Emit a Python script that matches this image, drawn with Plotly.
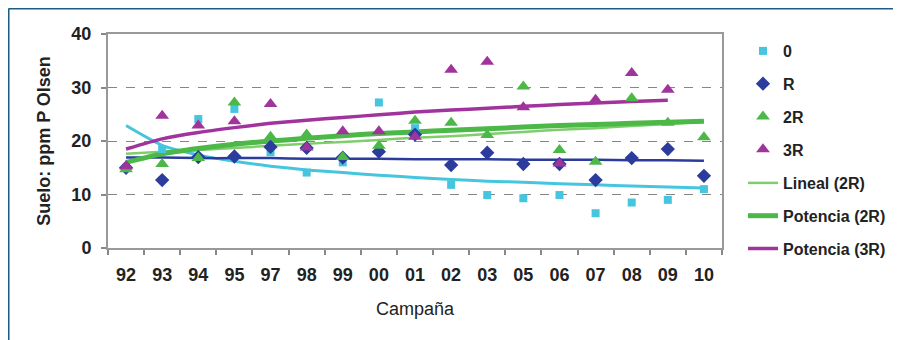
import plotly.graph_objects as go

# ---- data ----
campanas = ['92', '93', '94', '95', '97', '98', '99', '00', '01', '02', '03', '05', '06', '07', '08', '09', '10']

serie_0 = [15.0, 18.5, 24.1, 26.0, 17.9, 14.1, 16.0, 27.2, 22.4, 11.8, 9.9, 9.3, 9.9, 6.5, 8.5, 9.0, 11.0]
serie_R = [15.0, 12.7, 17.0, 17.1, 18.9, 18.7, 16.9, 18.0, 21.2, 15.5, 17.8, 15.7, 15.7, 12.7, 16.8, 18.5, 13.5]
serie_2R = [14.7, 15.7, 16.8, 27.2, 20.8, 21.2, 17.0, 19.1, 23.8, 23.4, 21.1, 30.2, 18.3, 16.1, 28.0, 23.4, 20.7]
serie_3R = [15.3, 24.7, 22.9, 23.7, 26.9, 18.8, 21.8, 21.8, 20.8, 33.3, 34.8, 26.3, 15.8, 27.7, 32.7, 29.6, None]

# trend lines (values read at each campaign)
tend_pot_0 = [22.9, 19.2, 17.4, 16.2, 15.3, 14.6, 14.1, 13.6, 13.2, 12.8, 12.5, 12.3, 12.0, 11.8, 11.6, 11.4, 11.2]
tend_lin_R = [16.9, 16.9, 16.8, 16.8, 16.8, 16.7, 16.7, 16.7, 16.6, 16.6, 16.6, 16.5, 16.5, 16.5, 16.4, 16.4, 16.3]
tend_lin_2R = [17.6, 18.0, 18.3, 18.7, 19.1, 19.5, 19.8, 20.2, 20.6, 20.9, 21.3, 21.7, 22.1, 22.4, 22.8, 23.2, 23.6]
tend_pot_2R = [16.0, 17.6, 18.6, 19.4, 20.0, 20.5, 21.0, 21.4, 21.7, 22.0, 22.3, 22.6, 22.9, 23.1, 23.3, 23.5, 23.7]
tend_pot_3R = [18.5, 20.4, 21.6, 22.5, 23.3, 23.9, 24.4, 24.9, 25.4, 25.8, 26.1, 26.5, 26.8, 27.1, 27.4, 27.6, None]

C_CYAN = '#45c5de'
C_BLUE = '#2b3c9c'
C_GREEN = '#4cb848'
C_GREEN_LT = '#7fcd6c'
C_PURPLE = '#a1349c'

FONT = 'Liberation Sans, Arial, sans-serif'

fig = go.Figure()

def line(y, color, width, name, show, rank):
    fig.add_trace(go.Scatter(
        x=campanas, y=y, mode='lines', name=name, showlegend=show,
        line=dict(color=color, width=width, shape='spline', smoothing=0.6),
        legendgroup=name, legendrank=rank, legend='legend2', hoverinfo='skip'))

line(tend_pot_0, C_CYAN, 3, 'Potencia (0)', False, 90)
line(tend_lin_R, C_BLUE, 2.5, 'Lineal (R)', False, 91)
line(tend_lin_2R, C_GREEN_LT, 2.5, 'Lineal (2R)', True, 5)
line(tend_pot_2R, C_GREEN, 5, 'Potencia (2R)', True, 6)
line(tend_pot_3R, C_PURPLE, 3.5, 'Potencia (3R)', True, 7)

def pts(y, color, symbol, size, name, rank):
    fig.add_trace(go.Scatter(
        x=campanas, y=y, mode='markers', name=name,
        marker=dict(color=color, symbol=symbol, size=size, line=dict(width=0)),
        legendgroup=name, legendrank=rank, legend='legend'))

pts(serie_0, C_CYAN, 'square', 8, '0', 1)
pts(serie_R, C_BLUE, 'diamond', 11, 'R', 2)
pts(serie_2R, C_GREEN, 'triangle-up', 12, '2R', 3)
pts(serie_3R, C_PURPLE, 'triangle-up', 12, '3R', 4)

# outer frame (top and left edges of the box)
frame = '#1d5c88'
fig.add_shape(type='line', xref='paper', yref='paper', x0=-0.162, x1=1.32, y0=1.1192, y1=1.1192,
              line=dict(color=frame, width=2))
fig.add_shape(type='line', xref='paper', yref='paper', x0=-0.162, x1=-0.162, y0=1.1192, y1=-0.45,
              line=dict(color=frame, width=2))

legend_font = dict(family=FONT, size=16, color='#222222', weight='bold')

fig.update_layout(
    width=893, height=332,
    margin=dict(l=100, r=179, t=26, b=92, autoexpand=False),
    paper_bgcolor='white', plot_bgcolor='white',
    font=dict(family=FONT, color='#222222'),
    showlegend=True,
    legend=dict(
        x=1.0342, xanchor='left', yref='container', y=0.9217, yanchor='top',
        font=legend_font, tracegroupgap=9, traceorder='grouped',
        bgcolor='rgba(0,0,0,0)', itemwidth=30,
    ),
    legend2=dict(
        x=1.0342, xanchor='left', yref='container', y=0.5241, yanchor='top',
        font=legend_font, tracegroupgap=9, traceorder='grouped',
        bgcolor='rgba(0,0,0,0)', itemwidth=30,
    ),
    xaxis=dict(
        type='category', range=[-0.5, 16.5], automargin=False,
        tickson='boundaries', ticks='outside', ticklen=5, tickwidth=1.5, tickcolor='#888888',
        showline=True, linecolor='#999999', linewidth=2, mirror=True,
        showgrid=False,
        tickfont=dict(family=FONT, size=18, color='#222222', weight='bold'),
        ticklabelstandoff=9,
        title=dict(text='Campaña', font=dict(family=FONT, size=18, color='#222222'), standoff=19),
    ),
    yaxis=dict(
        range=[0, 40], dtick=10, tick0=0, automargin=False,
        ticks='outside', ticklen=5, tickwidth=1.5, tickcolor='#888888',
        showline=True, linecolor='#999999', linewidth=2, mirror=True,
        showgrid=True, gridcolor='#8c8480', gridwidth=1, griddash='dash',
        zeroline=False,
        tickfont=dict(family=FONT, size=18, color='#222222', weight='bold'),
        ticklabelstandoff=6,
        title=dict(text='Suelo: ppm P Olsen', font=dict(family=FONT, size=18, color='#222222', weight='bold'), standoff=16),
    ),
)

fig.write_html('out.html')
